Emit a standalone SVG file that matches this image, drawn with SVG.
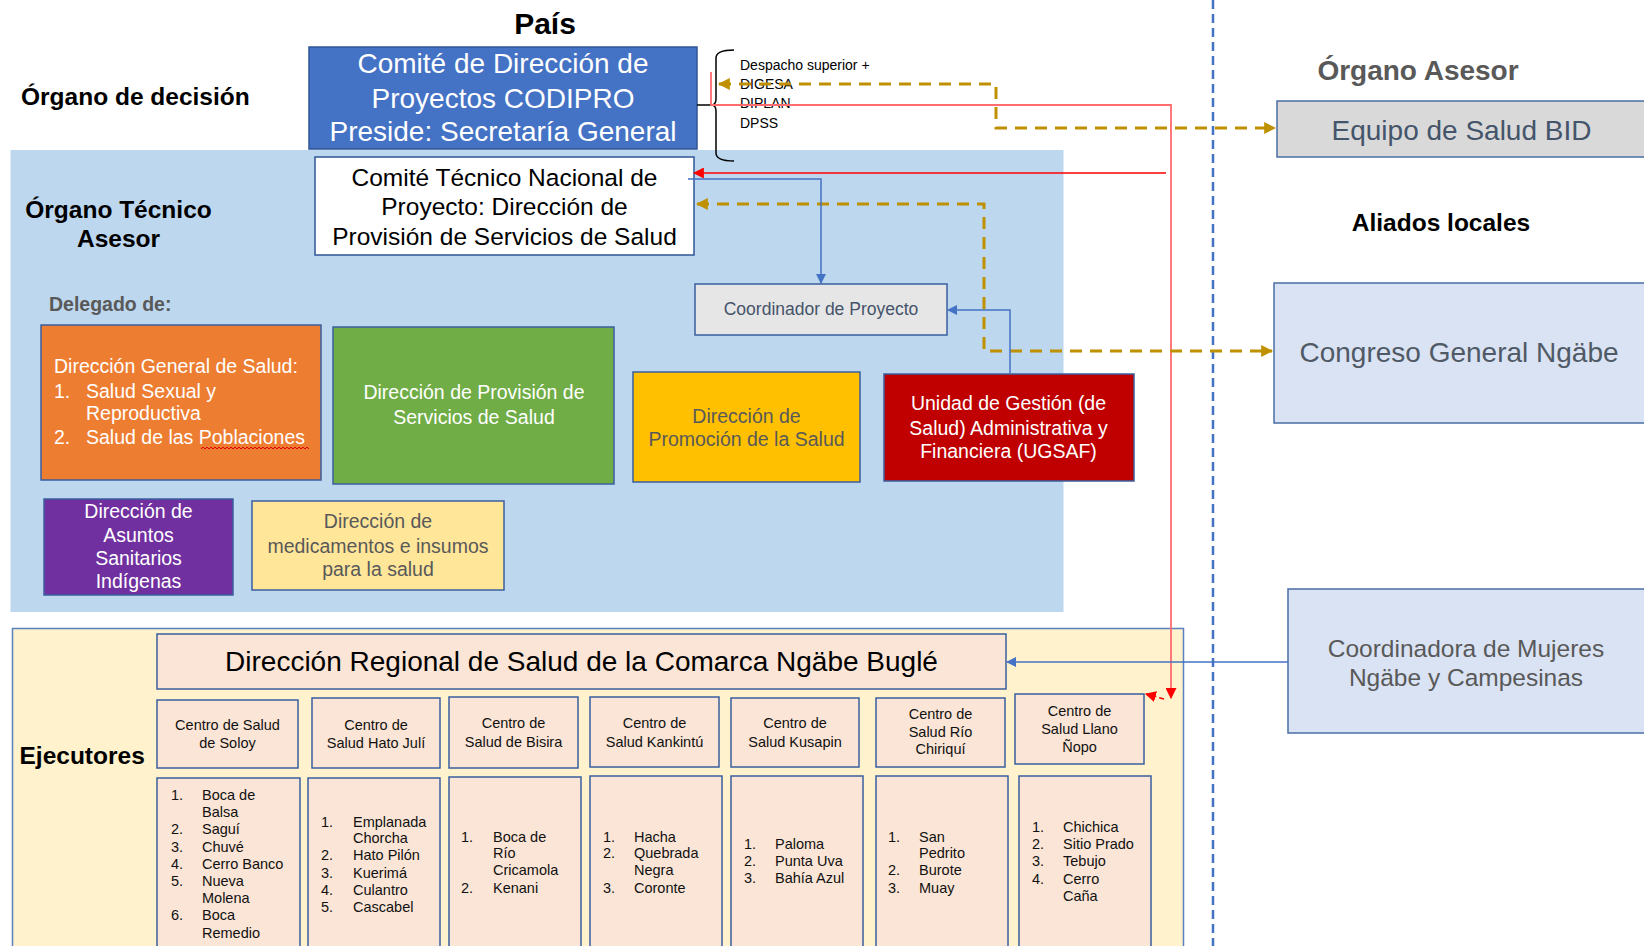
<svg xmlns="http://www.w3.org/2000/svg" width="1644" height="946" viewBox="0 0 1644 946">
<defs>
<style>
text{font-family:"Liberation Sans",Arial,Helvetica,sans-serif}
.hd{font-weight:bold;font-size:24.5px;fill:#000}
.bx{stroke:#3a5f9e;stroke-width:1.5}
.c{text-anchor:middle}
.w{fill:#fff}
.gy{fill:#595959}
.s19{font-size:19.5px}
.ctr{font-size:14.5px;fill:#111;text-anchor:middle}
.li{font-size:14.5px;fill:#111}
.cn{fill:none}
.blue{stroke:#4472c4;stroke-width:1.5}
.red{stroke:#ff0000;stroke-width:1.5}
.lred{stroke:#ff6b6f;stroke-width:1.8}
.gold{stroke:#bf9000;stroke-width:3;stroke-dasharray:12 8}
.sm{font-size:14px;fill:#000}
</style>
<marker id="ab" viewBox="0 0 10 10" refX="9" refY="5" markerWidth="10" markerHeight="10" markerUnits="userSpaceOnUse" orient="auto-start-reverse"><path d="M0,0 L10,5 L0,10 z" fill="#4472c4"/></marker>
<marker id="ar" viewBox="0 0 10 10" refX="9" refY="5" markerWidth="11" markerHeight="11" markerUnits="userSpaceOnUse" orient="auto-start-reverse"><path d="M0,0 L10,5 L0,10 z" fill="#ff0000"/></marker>
<marker id="ag" viewBox="0 0 10 10" refX="9" refY="5" markerWidth="12" markerHeight="12" markerUnits="userSpaceOnUse" orient="auto-start-reverse"><path d="M0,0 L10,5 L0,10 z" fill="#bf9000"/></marker>
</defs>
<rect x="0" y="0" width="1644" height="946" fill="#fff"/>

<g id="bands">
<rect x="10.5" y="150" width="1053" height="462" fill="#bdd7ee"/>
<rect x="12.5" y="628.5" width="1171" height="330" fill="#fff2cc" stroke="#5b7fbf" stroke-width="1.5"/>
</g>

<g id="labels">
<text x="545" y="34" class="c" style="font-weight:bold;font-size:30px">País</text>
<text x="21" y="104.5" class="hd">Órgano de decisión</text>
<text x="118.5" y="217.5" class="hd c">Órgano Técnico</text>
<text x="118.5" y="246.5" class="hd c">Asesor</text>
<text x="49" y="311" class="gy" style="font-weight:bold;font-size:19.5px">Delegado de:</text>
<text x="19.5" y="764" class="hd">Ejecutores</text>
<text x="1418" y="80" class="gy c" style="font-weight:bold;font-size:28px">Órgano Asesor</text>
<text x="1441" y="231" class="hd c">Aliados locales</text>
</g>

<g id="codipro">
<rect x="309" y="47" width="388" height="102" fill="#4472c4" stroke="#2f5597" stroke-width="1.5"/>
<text class="w c" style="font-size:28px"><tspan x="503" y="73">Comité de Dirección de</tspan><tspan x="503" y="107.5">Proyectos CODIPRO</tspan><tspan x="503" y="141">Preside: Secretaría General</tspan></text>
</g>

<g id="despacho">
<text class="sm"><tspan x="740" y="69.5">Despacho superior +</tspan><tspan x="740" y="88.5">DIGESA</tspan><tspan x="740" y="107.5">DIPLAN</tspan><tspan x="740" y="127.5">DPSS</tspan></text>
</g>

<g id="comite-tecnico">
<rect x="315" y="157" width="379" height="98" fill="#fff" stroke="#2f5597" stroke-width="1.5"/>
<text class="c" style="font-size:24.5px;fill:#000"><tspan x="504.5" y="185.5">Comité Técnico Nacional de</tspan><tspan x="504.5" y="214.5">Proyecto: Dirección de</tspan><tspan x="504.5" y="244.5">Provisión de Servicios de Salud</tspan></text>
</g>

<g id="coordinador">
<rect x="695" y="284" width="252" height="51" fill="#e7e6e6" class="bx"/>
<text x="821" y="315" class="c" style="font-size:17.5px;fill:#44546a">Coordinador de Proyecto</text>
</g>

<g id="dgs">
<rect x="41" y="325" width="280" height="155" fill="#ed7d31" class="bx"/>
<text class="w s19"><tspan x="54" y="373">Dirección General de Salud:</tspan><tspan x="54" y="398">1.</tspan><tspan x="86" y="398">Salud Sexual y</tspan><tspan x="86" y="420">Reproductiva</tspan><tspan x="54" y="444">2.</tspan><tspan x="86" y="444">Salud de las Poblaciones</tspan></text>
<path d="M201,449 l2,-2 l2,2 l2,-2 l2,2 l2,-2 l2,2 l2,-2 l2,2 l2,-2 l2,2 l2,-2 l2,2 l2,-2 l2,2 l2,-2 l2,2 l2,-2 l2,2 l2,-2 l2,2 l2,-2 l2,2 l2,-2 l2,2 l2,-2 l2,2 l2,-2 l2,2 l2,-2 l2,2 l2,-2 l2,2 l2,-2 l2,2 l2,-2 l2,2 l2,-2 l2,2 l2,-2 l2,2 l2,-2 l2,2 l2,-2 l2,2 l2,-2 l2,2 l2,-2 l2,2 l2,-2 l2,2 l2,-2 l2,2 l2,-2 l2,2" fill="none" stroke="#e00000" stroke-width="1"/>
</g>

<g id="dpss">
<rect x="333" y="327" width="281" height="157" fill="#70ad47" class="bx"/>
<text class="w s19 c"><tspan x="474" y="399">Dirección de Provisión de</tspan><tspan x="474" y="424">Servicios de Salud</tspan></text>
</g>

<g id="promocion">
<rect x="633" y="372" width="227" height="110" fill="#ffc000" class="bx"/>
<text class="gy s19 c"><tspan x="746.5" y="423">Dirección de</tspan><tspan x="746.5" y="446">Promoción de la Salud</tspan></text>
</g>

<g id="ugsaf">
<rect x="884" y="374" width="250" height="107" fill="#c00000" class="bx"/>
<text class="w s19 c"><tspan x="1008.5" y="410">Unidad de Gestión (de</tspan><tspan x="1008.5" y="435">Salud) Administrativa y</tspan><tspan x="1008.5" y="458">Financiera (UGSAF)</tspan></text>
</g>

<g id="dasi">
<rect x="44" y="499" width="189" height="96" fill="#7030a0" class="bx"/>
<text class="w s19 c"><tspan x="138.5" y="518">Dirección de</tspan><tspan x="138.5" y="542">Asuntos</tspan><tspan x="138.5" y="565">Sanitarios</tspan><tspan x="138.5" y="588">Indígenas</tspan></text>
</g>

<g id="medicamentos">
<rect x="252" y="501" width="252" height="89" fill="#ffe699" class="bx"/>
<text class="gy s19 c"><tspan x="378" y="528">Dirección de</tspan><tspan x="378" y="553">medicamentos e insumos</tspan><tspan x="378" y="576">para la salud</tspan></text>
</g>

<g id="equipo-bid">
<rect x="1277" y="101" width="380" height="56" fill="#d9d9d9" stroke="#4a6fa5" stroke-width="1.5"/>
<text x="1461.5" y="140" class="c" style="font-size:28px;fill:#44546a">Equipo de Salud BID</text>
</g>

<g id="congreso">
<rect x="1274" y="283" width="380" height="140" fill="#dae3f3" stroke="#4a6fa5" stroke-width="1.5"/>
<text x="1459" y="362" class="c" style="font-size:28px;fill:#505a66">Congreso General Ngäbe</text>
</g>

<g id="coordinadora">
<rect x="1288" y="589" width="370" height="144" fill="#dae3f3" stroke="#4a6fa5" stroke-width="1.5"/>
<text class="c gy" style="font-size:24.5px"><tspan x="1466" y="657">Coordinadora de Mujeres</tspan><tspan x="1466" y="686">Ngäbe y Campesinas</tspan></text>
</g>

<g id="regional">
<rect x="157" y="634" width="849" height="55" fill="#fbe5d6" class="bx"/>
<text x="581.5" y="671" class="c" style="font-size:28px;fill:#000">Dirección Regional de Salud de la Comarca Ngäbe Buglé</text>
</g>

<g id="cs-soloy">
<rect x="157" y="700" width="141" height="68" fill="#fbe5d6" class="bx"/>
<text class="ctr"><tspan x="227.5" y="730">Centro de Salud</tspan><tspan x="227.5" y="748">de Soloy</tspan></text>
<rect x="157" y="778" width="143" height="180" fill="#fbe5d6" class="bx"/>
<text class="li"><tspan x="171" y="800">1.</tspan><tspan x="202" y="800">Boca de</tspan><tspan x="202" y="817">Balsa</tspan><tspan x="171" y="834">2.</tspan><tspan x="202" y="834">Saguí</tspan><tspan x="171" y="852">3.</tspan><tspan x="202" y="852">Chuvé</tspan><tspan x="171" y="869">4.</tspan><tspan x="202" y="869">Cerro Banco</tspan><tspan x="171" y="886">5.</tspan><tspan x="202" y="886">Nueva</tspan><tspan x="202" y="903">Molena</tspan><tspan x="171" y="920">6.</tspan><tspan x="202" y="920">Boca</tspan><tspan x="202" y="938">Remedio</tspan></text>
</g>

<g id="cs-hatojuli">
<rect x="312" y="698" width="128" height="70" fill="#fbe5d6" class="bx"/>
<text class="ctr"><tspan x="376" y="730">Centro de</tspan><tspan x="376" y="748">Salud Hato Julí</tspan></text>
<rect x="308" y="778" width="132" height="180" fill="#fbe5d6" class="bx"/>
<text class="li"><tspan x="321" y="827">1.</tspan><tspan x="353" y="827">Emplanada</tspan><tspan x="353" y="843">Chorcha</tspan><tspan x="321" y="860">2.</tspan><tspan x="353" y="860">Hato Pilón</tspan><tspan x="321" y="878">3.</tspan><tspan x="353" y="878">Kuerimá</tspan><tspan x="321" y="895">4.</tspan><tspan x="353" y="895">Culantro</tspan><tspan x="321" y="912">5.</tspan><tspan x="353" y="912">Cascabel</tspan></text>
</g>

<g id="cs-bisira">
<rect x="449" y="697" width="129" height="71" fill="#fbe5d6" class="bx"/>
<text class="ctr"><tspan x="513.5" y="728">Centro de</tspan><tspan x="513.5" y="747">Salud de Bisira</tspan></text>
<rect x="449" y="777" width="132" height="181" fill="#fbe5d6" class="bx"/>
<text class="li"><tspan x="461" y="842">1.</tspan><tspan x="493" y="842">Boca de</tspan><tspan x="493" y="858">Río</tspan><tspan x="493" y="875">Cricamola</tspan><tspan x="461" y="893">2.</tspan><tspan x="493" y="893">Kenani</tspan></text>
</g>

<g id="cs-kankintu">
<rect x="590" y="697" width="129" height="70" fill="#fbe5d6" class="bx"/>
<text class="ctr"><tspan x="654.5" y="728">Centro de</tspan><tspan x="654.5" y="747">Salud Kankintú</tspan></text>
<rect x="590" y="776" width="132" height="182" fill="#fbe5d6" class="bx"/>
<text class="li"><tspan x="603" y="842">1.</tspan><tspan x="634" y="842">Hacha</tspan><tspan x="603" y="858">2.</tspan><tspan x="634" y="858">Quebrada</tspan><tspan x="634" y="875">Negra</tspan><tspan x="603" y="893">3.</tspan><tspan x="634" y="893">Coronte</tspan></text>
</g>

<g id="cs-kusapin">
<rect x="731" y="698" width="128" height="69" fill="#fbe5d6" class="bx"/>
<text class="ctr"><tspan x="795" y="728">Centro de</tspan><tspan x="795" y="747">Salud Kusapin</tspan></text>
<rect x="731" y="776" width="132" height="182" fill="#fbe5d6" class="bx"/>
<text class="li"><tspan x="744" y="849">1.</tspan><tspan x="775" y="849">Paloma</tspan><tspan x="744" y="866">2.</tspan><tspan x="775" y="866">Punta Uva</tspan><tspan x="744" y="883">3.</tspan><tspan x="775" y="883">Bahía Azul</tspan></text>
</g>

<g id="cs-riochiriqui">
<rect x="876" y="698" width="129" height="69" fill="#fbe5d6" class="bx"/>
<text class="ctr"><tspan x="940.5" y="719">Centro de</tspan><tspan x="940.5" y="737">Salud Río</tspan><tspan x="940.5" y="754">Chiriquí</tspan></text>
<rect x="876" y="776" width="132" height="182" fill="#fbe5d6" class="bx"/>
<text class="li"><tspan x="888" y="842">1.</tspan><tspan x="919" y="842">San</tspan><tspan x="919" y="858">Pedrito</tspan><tspan x="888" y="875">2.</tspan><tspan x="919" y="875">Burote</tspan><tspan x="888" y="893">3.</tspan><tspan x="919" y="893">Muay</tspan></text>
</g>

<g id="cs-llanonopo">
<rect x="1015" y="694" width="129" height="70" fill="#fbe5d6" class="bx"/>
<text class="ctr"><tspan x="1079.5" y="716">Centro de</tspan><tspan x="1079.5" y="734">Salud Llano</tspan><tspan x="1079.5" y="752">Ñopo</tspan></text>
<rect x="1019" y="776" width="132" height="182" fill="#fbe5d6" class="bx"/>
<text class="li"><tspan x="1032" y="832">1.</tspan><tspan x="1063" y="832">Chichica</tspan><tspan x="1032" y="849">2.</tspan><tspan x="1063" y="849">Sitio Prado</tspan><tspan x="1032" y="866">3.</tspan><tspan x="1063" y="866">Tebujo</tspan><tspan x="1032" y="884">4.</tspan><tspan x="1063" y="884">Cerro</tspan><tspan x="1063" y="901">Caña</tspan></text>
</g>

<g id="connectors">
<path d="M1213,0 V946" class="cn" stroke="#4472c4" stroke-width="2.5" stroke-dasharray="9 5"/>
<path d="M734,50 Q716,50 716,58 V99 Q716,105 711,105 Q716,105 716,111 V153 Q716,161 734,161" class="cn" stroke="#000" stroke-width="1.5"/>
<path d="M697,105 H712" class="cn" stroke="#000" stroke-width="1.5"/>
<path d="M711,72 V105 H1171 V698" class="cn lred" marker-end="url(#ar)"/>
<path d="M1166,173 H694" class="cn red" marker-end="url(#ar)"/>
<path d="M1164,699 L1146,694" class="cn red" stroke-dasharray="5 3" marker-end="url(#ar)"/>
<path d="M719,84 H996 V128 H1275" class="cn gold" marker-start="url(#ag)" marker-end="url(#ag)"/>
<path d="M697,204 H984 V351 H1272" class="cn gold" marker-start="url(#ag)" marker-end="url(#ag)"/>
<path d="M688,179 H821 V283" class="cn blue" marker-end="url(#ab)"/>
<path d="M1010,373 V310 H948" class="cn blue" marker-end="url(#ab)"/>
<path d="M1288,662 H1007" class="cn blue" marker-end="url(#ab)"/>
</g>
</svg>
